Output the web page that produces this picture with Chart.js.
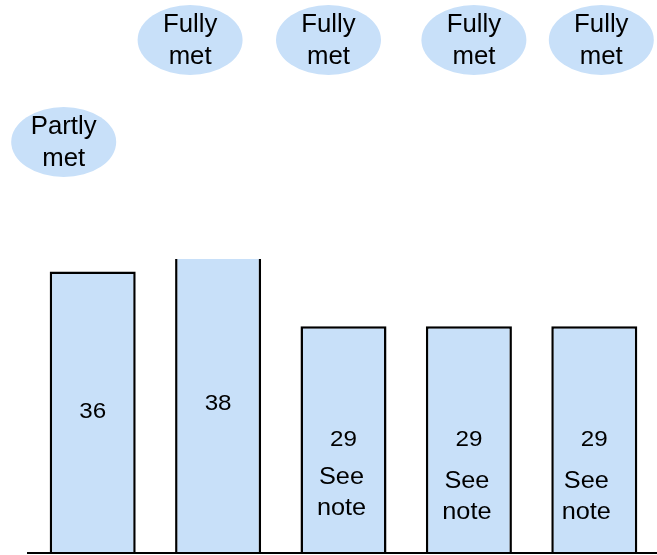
<!DOCTYPE html>
<html>
<head>
<meta charset="utf-8">
<script src="https://cdn.jsdelivr.net/npm/chart.js@4.4.1/dist/chart.umd.min.js"></script>
<style>
  html, body { margin: 0; padding: 0; background: #ffffff; }
  #wrap { width: 657px; height: 555px; }
</style>
</head>
<body>
<div id="wrap"><canvas id="c" width="657" height="555"></canvas></div>
<script>
// ---- data ----
const categories = ['1', '2', '3', '4', '5'];
const values = [36, 38, 29, 29, 29];
const statuses = ['Partly met', 'Fully met', 'Fully met', 'Fully met', 'Fully met'];
const notes = ['', '', 'See note', 'See note', 'See note'];
const yMax = 37.6;

const FILL = '#c8e0f9';
const FONT = '"Liberation Sans", Arial, sans-serif';

function stretchedText(ctx, text, x, y, size, sx) {
  ctx.save();
  ctx.font = size + 'px ' + FONT;
  ctx.textAlign = 'center';
  ctx.textBaseline = 'middle';
  ctx.translate(x, y);
  ctx.scale(sx, 1);
  ctx.fillStyle = '#000';
  ctx.fillText(text, 0, 0);
  ctx.restore();
}

const overlay = {
  id: 'overlay',
  afterDatasetsDraw(chart) {
    const ctx = chart.ctx;
    const meta = chart.getDatasetMeta(0);
    const area = chart.chartArea;
    const y0 = chart.scales.y.getPixelForValue(0);

    // baseline
    ctx.save();
    ctx.strokeStyle = '#000';
    ctx.lineWidth = 2;
    ctx.beginPath();
    ctx.moveTo(area.left - 3, y0);
    ctx.lineTo(chart.width, y0);
    ctx.stroke();
    ctx.restore();

    // value labels and notes inside bars
    const numY = [412, 404, 440, 440, 440];
    const noteDx = [0, 0, -2, -2, -8];
    meta.data.forEach((bar, i) => {
      stretchedText(ctx, String(values[i]), bar.x, numY[i], 22, 1.1);
      if (notes[i]) {
        const parts = notes[i].split(' ');
        const base = i === 2 ? 478 : 482;
        parts.forEach((p, k) => {
          stretchedText(ctx, p, bar.x + noteDx[i], base + k * 31, 23, 1.1);
        });
      }
    });

    // status ellipses
    const ex = [-29, -28, -15, 5, 7];
    meta.data.forEach((bar, i) => {
      const cx = bar.x + ex[i];
      const cy = statuses[i] === 'Partly met' ? 142 : 40;
      ctx.save();
      ctx.fillStyle = FILL;
      ctx.beginPath();
      ctx.ellipse(cx, cy, 52.5, 35, 0, 0, Math.PI * 2);
      ctx.fill();
      ctx.restore();
      const words = statuses[i].split(' ');
      stretchedText(ctx, words[0], cx, cy - 15, 25, 1.03);
      stretchedText(ctx, words[1], cx, cy + 17, 25, 1.03);
    });
  }
};

new Chart(document.getElementById('c'), {
  type: 'bar',
  data: {
    labels: categories,
    datasets: [{
      data: values,
      backgroundColor: FILL,
      borderColor: '#000',
      borderWidth: 2.5,
      borderSkipped: 'start',
      categoryPercentage: 1,
      barPercentage: 0.686,
      clip: 0
    }]
  },
  options: {
    responsive: false,
    animation: false,
    layout: { padding: { top: 259, left: 30, right: 0, bottom: 2 } },
    plugins: { legend: { display: false }, tooltip: { enabled: false }, title: { display: false } },
    scales: {
      x: { display: false },
      y: { display: false, min: 0, max: yMax }
    }
  },
  plugins: [overlay]
});
</script>
</body>
</html>
